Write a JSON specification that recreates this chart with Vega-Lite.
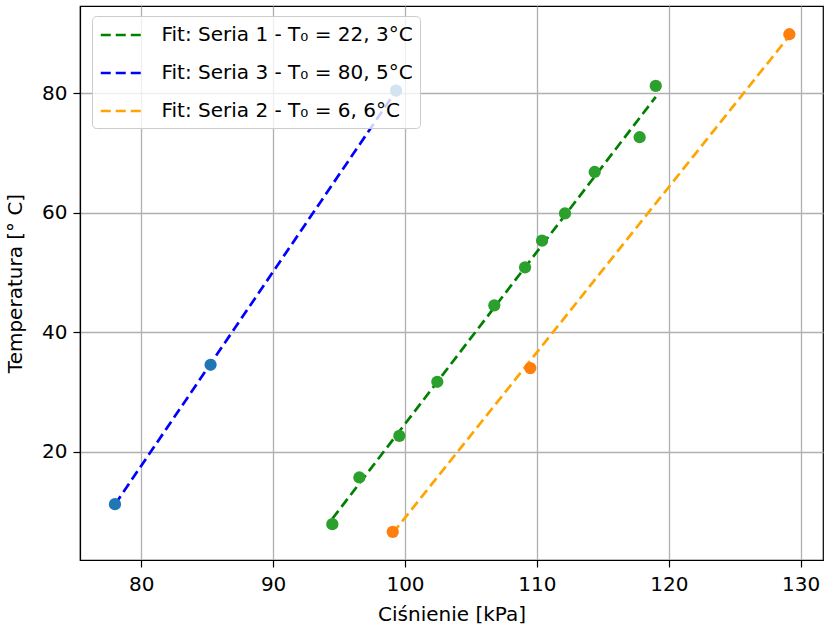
{
  "$schema": "https://vega.github.io/schema/vega-lite/v6.json",
  "width": 743,
  "height": 554,
  "autosize": "none",
  "padding": {"left": 80, "top": 6, "right": 8, "bottom": 69},
  "background": "white",
  "config": {
    "font": "DejaVu Sans",
    "view": {"stroke": "black", "strokeWidth": 1.2},
    "axis": {
      "labelFont": "DejaVu Sans",
      "titleFont": "DejaVu Sans",
      "labelFontSize": 20,
      "titleFontSize": 20,
      "titleFontWeight": "normal",
      "labelColor": "#000000",
      "titleColor": "#000000",
      "domainColor": "#000000",
      "domainWidth": 1.2,
      "tickColor": "#000000",
      "tickWidth": 1.2,
      "tickSize": 7,
      "gridColor": "#b0b0b0",
      "gridWidth": 1.3
    }
  },
  "datasets": {
    "points": [
      {"series": "Seria 1", "p": 94.49, "T": 7.90},
      {"series": "Seria 1", "p": 96.54, "T": 15.71},
      {"series": "Seria 1", "p": 99.57, "T": 22.68},
      {"series": "Seria 1", "p": 102.45, "T": 31.72},
      {"series": "Seria 1", "p": 106.77, "T": 44.51},
      {"series": "Seria 1", "p": 109.10, "T": 50.87},
      {"series": "Seria 1", "p": 110.39, "T": 55.33},
      {"series": "Seria 1", "p": 112.13, "T": 59.91},
      {"series": "Seria 1", "p": 114.38, "T": 66.83},
      {"series": "Seria 1", "p": 117.79, "T": 72.64},
      {"series": "Seria 1", "p": 119.01, "T": 81.23},
      {"series": "Seria 2", "p": 99.07, "T": 6.61},
      {"series": "Seria 2", "p": 109.50, "T": 34.01},
      {"series": "Seria 2", "p": 129.14, "T": 89.88},
      {"series": "Seria 3", "p": 78.01, "T": 11.24},
      {"series": "Seria 3", "p": 85.26, "T": 34.57},
      {"series": "Seria 3", "p": 99.32, "T": 80.44}
    ],
    "fits": [
      {"fit": "Fit: Seria 1 - T₀ = 22, 3°C", "p": 94.49, "T": 8.8},
      {"fit": "Fit: Seria 1 - T₀ = 22, 3°C", "p": 119.01, "T": 79.4},
      {"fit": "Fit: Seria 3 - T₀ = 80, 5°C", "p": 78.01, "T": 11.2},
      {"fit": "Fit: Seria 3 - T₀ = 80, 5°C", "p": 99.32, "T": 80.4},
      {"fit": "Fit: Seria 2 - T₀ = 6, 6°C", "p": 99.07, "T": 6.4},
      {"fit": "Fit: Seria 2 - T₀ = 6, 6°C", "p": 129.14, "T": 89.6}
    ]
  },
  "layer": [
    {
      "data": {"name": "fits"},
      "mark": {"type": "line", "strokeWidth": 2.7, "strokeDash": [10, 5], "clip": true},
      "encoding": {
        "x": {
          "field": "p", "type": "quantitative",
          "scale": {"domain": [75.36, 131.69], "nice": false, "zero": false},
          "axis": {"values": [80, 90, 100, 110, 120, 130], "title": "Ciśnienie [kPa]", "labelPadding": 7, "titlePadding": 10, "grid": true}
        },
        "y": {
          "field": "T", "type": "quantitative",
          "scale": {"domain": [1.9, 94.6], "nice": false, "zero": false},
          "axis": {"values": [20, 40, 60, 80], "title": "Temperatura [° C]", "labelPadding": 6, "titlePadding": 16, "grid": true}
        },
        "color": {
          "field": "fit", "type": "nominal",
          "scale": {
            "domain": ["Fit: Seria 1 - T₀ = 22, 3°C", "Fit: Seria 3 - T₀ = 80, 5°C", "Fit: Seria 2 - T₀ = 6, 6°C"],
            "range": ["#008000", "#0000ff", "#ffa500"]
          },
          "legend": {
            "title": null,
            "orient": "none",
            "legendX": 12,
            "legendY": 10,
            "padding": 7,
            "rowPadding": 16,
            "labelOffset": 38.5,
            "labelFontSize": 20,
            "labelFont": "DejaVu Sans",
            "labelColor": "#000000",
            "labelLimit": 400,
            "symbolType": "M-1,0H3",
            "symbolSize": 420,
            "symbolStrokeWidth": 2.7,
            "symbolDash": [10, 5],
            "fillColor": "rgba(255,255,255,0.8)",
            "strokeColor": "#cccccc",
            "cornerRadius": 4
          }
        },
        "detail": {"field": "fit"}
      }
    },
    {
      "data": {"name": "points"},
      "mark": {"type": "circle", "size": 150, "opacity": 1},
      "encoding": {
        "x": {"field": "p", "type": "quantitative"},
        "y": {"field": "T", "type": "quantitative"},
        "color": {
          "field": "series", "type": "nominal",
          "scale": {"domain": ["Seria 1", "Seria 2", "Seria 3"], "range": ["#2ca02c", "#ff7f0e", "#1f77b4"]},
          "legend": null
        }
      }
    }
  ],
  "resolve": {"scale": {"color": "independent"}}
}
